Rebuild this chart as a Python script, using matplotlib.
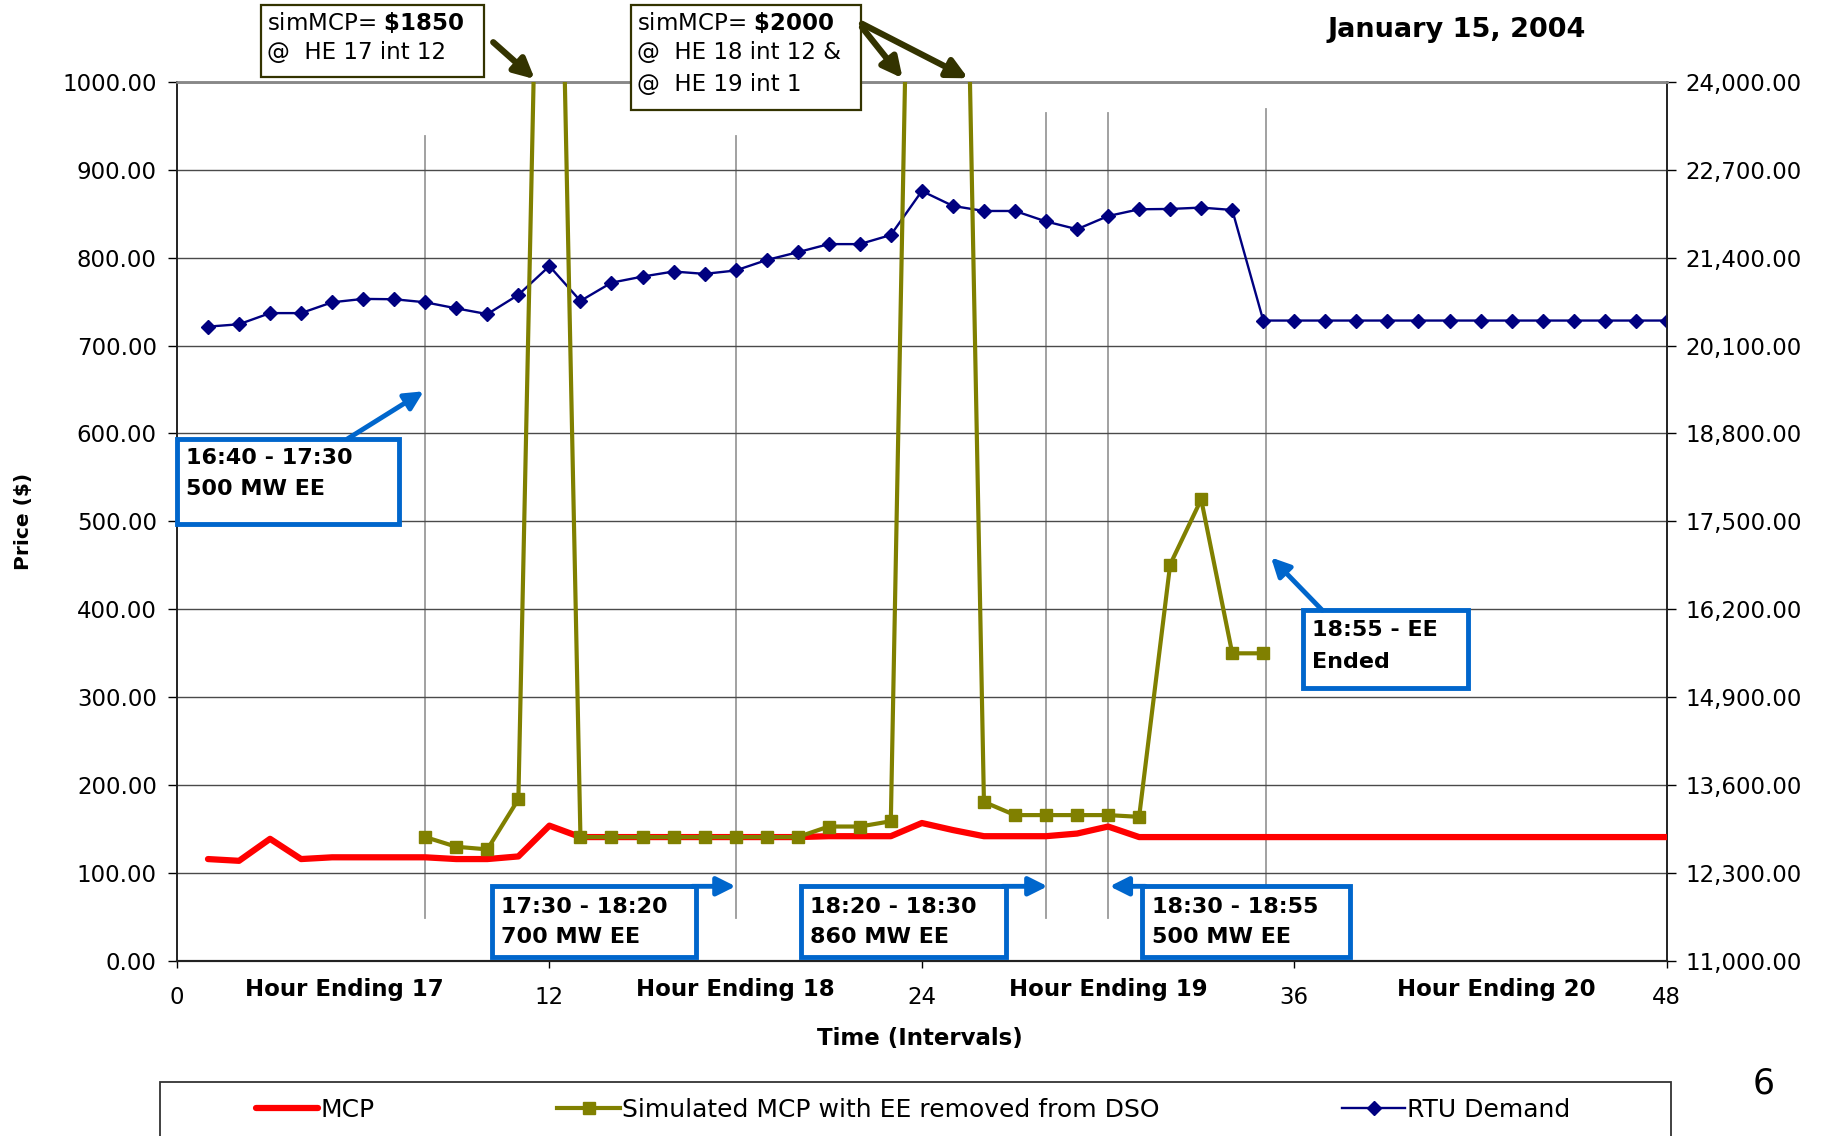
import matplotlib.pyplot as plt
from matplotlib.patches import Rectangle
from matplotlib.ticker import FuncFormatter, MultipleLocator
from matplotlib import transforms

plt.rcParams['font.family'] = ['DejaVu Sans']
plt.rcParams['mathtext.fontset'] = 'dejavusans'

nan = float('nan')

# intervals 1..48 (5-minute intervals, HE17..HE20)
intervals = list(range(1, 49))

mcp = [116, 114, 139, 116, 118, 118, 118, 118, 116, 116, 119, 154,
       141, 141, 141, 141, 141, 141, 141, 141, 142, 142, 142, 157,
       149, 142, 142, 142, 145, 153, 141, 141, 141, 141, 141, 141,
       141, 141, 141, 141, 141, 141, 141, 141, 141, 141, 141, 141]

sim_mcp = [nan] * 7 + [141, 130, 127, 184, 1850, 141, 141, 141, 141, 141,
                       141, 141, 141, 153, 153, 159, 2000, 2000, 181, 166,
                       166, 166, 166, 164, 451, 525, 350, 350] + [nan] * 13

rtu_demand = [20380, 20415, 20580, 20580, 20740, 20790, 20785, 20740,
              20650, 20565, 20850, 21275, 20760, 21030, 21120, 21195,
              21160, 21210, 21365, 21480, 21600, 21600, 21735, 22385,
              22165, 22090, 22090, 21935, 21820, 22015, 22115, 22120,
              22140, 22105] + [20470] * 14

x_ticks = [0, 12, 24, 36, 48]
right_ticks = [11000, 12300, 13600, 14900, 16200, 17500, 18800, 20100,
               21400, 22700, 24000]
hour_labels = ["Hour Ending 17", "Hour Ending 18", "Hour Ending 19", "Hour Ending 20"]
hour_label_x = [5.4, 18.0, 30.0, 42.5]

# event markers (interval, top of line as fraction of axis)
event_lines = [(8, 0.938), (18, 0.938), (28, 0.965), (30, 0.965), (35.1, 0.969)]

blue = '#0066CC'
olive = '#808000'
dark_olive = '#333300'
navy = '#000080'

fig = plt.figure(figsize=(18.28, 11.36), dpi=100)
ax = fig.add_axes([0.0968, 0.154, 0.815, 0.774])
ax2 = ax.twinx()
ax.set_zorder(2)
ax2.set_zorder(1)
ax.patch.set_visible(False)

ax.set_xlim(0, 48)
ax.set_ylim(0, 1000)
ax2.set_ylim(11000, 24000)
ax.yaxis.set_major_locator(MultipleLocator(100))
ax2.set_yticks(right_ticks)
ax.yaxis.set_major_formatter(FuncFormatter(lambda v, _: f"{v:.2f}"))
ax2.yaxis.set_major_formatter(FuncFormatter(lambda v, _: f"{v:,.2f}"))
ax.set_xticks(x_ticks)

# grid on the secondary axis so it stays beneath every series
ax2.yaxis.grid(True, color='#4a4a4a', lw=1.0)
for xv, top in event_lines:
    ax2.axvline(xv, ymin=0.049, ymax=top, color='#9a9a9a', lw=1.3, zorder=0)

rtu_line, = ax2.plot(intervals, rtu_demand, color=navy, lw=1.7, marker='D',
                     markersize=7, zorder=3)
mcp_line, = ax.plot(intervals, mcp, color='#FF0000', lw=4.5,
                    solid_capstyle='round', solid_joinstyle='round', zorder=3)
sim_line, = ax.plot(intervals, sim_mcp, color=olive, lw=3.0, marker='s',
                    markersize=9, zorder=4)

ax.tick_params(axis='y', direction='out', length=6.5, width=1, pad=8, labelsize=16.5)
ax2.tick_params(axis='y', direction='out', length=6.5, width=1, pad=7, labelsize=16.5)
ax.tick_params(axis='x', direction='out', length=5, width=1, pad=13, labelsize=16.5)

for a in (ax, ax2):
    a.spines['top'].set_color('#888888')
    a.spines['top'].set_linewidth(1.8)
    a.spines['left'].set_color('#222222')
    a.spines['right'].set_color('#222222')
    a.spines['bottom'].set_color('#222222')
    a.spines['left'].set_linewidth(1.2)
    a.spines['right'].set_linewidth(1.2)
    a.spines['bottom'].set_linewidth(1.5)

blend = transforms.blended_transform_factory(ax.transData, ax.transAxes)
for xv, lab in zip(hour_label_x, hour_labels):
    ax.text(xv, -0.032, lab, transform=blend, ha='center', va='center',
            fontsize=16.5, fontweight='bold')


def blue_box(x0, x1, y0, y1, lines, ys):
    ax.add_patch(Rectangle((x0, y0), x1 - x0, y1 - y0, fc='white', ec=blue,
                           lw=3.5, zorder=10, clip_on=False))
    for txt, yv in zip(lines, ys):
        ax.text(x0 + 0.3, yv, txt, ha='left', va='center', fontsize=16,
                fontweight='bold', zorder=11)


def arrow(start, end, color, lw, scale):
    ax.annotate('', xy=end, xytext=start, zorder=12, annotation_clip=False,
                arrowprops=dict(arrowstyle='-|>', color=color, lw=lw,
                                mutation_scale=scale, shrinkA=0, shrinkB=0))


blue_box(0, 7.14, 497, 594, ["16:40 - 17:30", "500 MW EE"], [572, 537])
arrow((5.5, 594), (7.95, 648), blue, 3.5, 28)

blue_box(36.28, 41.6, 310, 399, ["18:55 - EE", "Ended"], [377, 340])
arrow((36.9, 399), (35.25, 459), blue, 3.5, 28)

blue_box(10.15, 16.73, 5, 85, ["17:30 - 18:20", "700 MW EE"], [62, 27])
arrow((16.6, 85), (18.0, 85), blue, 3.5, 28)
blue_box(20.1, 26.7, 5, 85, ["18:20 - 18:30", "860 MW EE"], [62, 27])
arrow((26.6, 85), (28.05, 85), blue, 3.5, 28)
blue_box(31.1, 37.8, 5, 85, ["18:30 - 18:55", "500 MW EE"], [62, 27])
arrow((31.2, 85), (30.05, 85), blue, 3.5, 28)


def sim_box(x0, x1, y0, y1, lines, ys):
    ax.add_patch(Rectangle((x0, y0), x1 - x0, y1 - y0, fc='white', ec=dark_olive,
                           lw=1.6, zorder=10, clip_on=False))
    for txt, yv in zip(lines, ys):
        ax.text(x0 + 0.2, yv, txt, ha='left', va='center', fontsize=16.5,
                zorder=11, clip_on=False)


sim_box(2.7, 9.9, 1006, 1087, [r"simMCP= $\mathbf{\$1850}$", "@  HE 17 int 12"],
        [1067, 1033])
arrow((10.19, 1045), (11.53, 1003), dark_olive, 4.5, 30)

sim_box(14.62, 22.03, 968, 1087,
        [r"simMCP= $\mathbf{\$2000}$", "@  HE 18 int 12 &", "@  HE 19 int 1"],
        [1067, 1033, 997])
arrow((22.07, 1062), (23.38, 1004), dark_olive, 4.5, 30)
arrow((22.07, 1066), (25.49, 1004), dark_olive, 4.5, 30)

fig.text(0.797, 0.974, "January 15, 2004", ha='center', va='center',
         fontsize=19.5, fontweight='bold')
fig.text(0.0126, 0.541, "Price ($)", rotation=90, ha='center', va='center',
         fontsize=14.5, fontweight='bold')
fig.text(0.503, 0.0854, "Time (Intervals)", ha='center', va='center',
         fontsize=16.5, fontweight='bold')
fig.text(0.965, 0.046, "6", ha='center', va='center', fontsize=25)

fig.patches.append(Rectangle((160 / 1828, -0.02), (1671 - 160) / 1828,
                             (1136 - 1082) / 1136 + 0.02, transform=fig.transFigure,
                             fill=False, ec='#333333', lw=1.3))
fig.legend([mcp_line, sim_line, rtu_line],
           ["MCP", "Simulated MCP with EE removed from DSO", "RTU Demand"],
           loc='center', bbox_to_anchor=(0.4995, 0.0229), ncol=3, frameon=False,
           fontsize=18, handlelength=2.5, handletextpad=0.1, columnspacing=7.3)

fig.savefig("out.png", dpi=100, facecolor='white')
